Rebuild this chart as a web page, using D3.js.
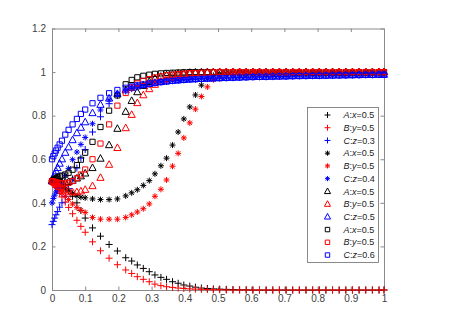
<!DOCTYPE html>
<html>
<head>
<meta charset="utf-8">
<script src="https://cdn.jsdelivr.net/npm/d3@7"></script>
<style>
body { margin: 0; background: #fff; }
svg { display: block; font-family: "Liberation Sans", Arial, sans-serif; }
</style>
</head>
<body>
<div id="chart"></div>
<script>
// time points shared by every series
var tGrid = [0,0.004,0.008,0.012,0.017,0.023,0.03,0.04,0.05,0.062,
  0.075,0.087,0.1,0.122,0.146,0.172,0.197,0.222,0.24,0.257,
  0.275,0.293,0.31,0.328,0.345,0.363,0.38,0.397,0.415,0.432,
  0.45,0.468,0.486,0.505,0.525,0.545,0.565,0.585,0.605,0.625,
  0.645,0.665,0.685,0.705,0.725,0.745,0.765,0.785,0.805,0.825,
  0.845,0.865,0.885,0.905,0.925,0.945,0.965,0.985,1];

// "+" markers
var plusA = [0.5,0.498,0.496,0.494,0.49,0.485,0.478,0.468,0.455,0.43,
  0.4,0.365,0.33,0.285,0.247,0.209,0.179,0.148,0.133,0.115,
  0.099,0.084,0.069,0.058,0.049,0.038,0.031,0.023,0.018,0.013,
  0.009,0.007,0.005,0.004,0.003,0.002,0.001,0.001,0,0,
  0,0,0,0,0,0,0,0,0,0,
  0,0,0,0,0,0,0,0,0];
var plusB = [0.5,0.49,0.48,0.47,0.458,0.443,0.427,0.403,0.379,0.35,
  0.32,0.292,0.265,0.221,0.18,0.146,0.116,0.092,0.076,0.061,
  0.049,0.038,0.027,0.02,0.015,0.012,0.009,0.007,0.005,0.004,
  0.003,0.002,0.001,0.001,0,0,0,0,0,0,
  0,0,0,0,0,0,0,0,0,0,
  0,0,0,0,0,0,0,0,0];
var plusC = [0.3,0.315,0.33,0.345,0.36,0.38,0.4,0.43,0.465,0.51,
  0.56,0.605,0.645,0.725,0.795,0.855,0.892,0.913,0.924,0.932,
  0.939,0.944,0.949,0.953,0.957,0.96,0.962,0.964,0.966,0.967,
  0.969,0.97,0.971,0.972,0.973,0.974,0.975,0.976,0.977,0.978,
  0.978,0.979,0.98,0.98,0.981,0.982,0.982,0.983,0.983,0.984,
  0.984,0.985,0.985,0.986,0.986,0.987,0.987,0.988,0.988];

// "*" markers
var starA = [0.5,0.497,0.494,0.49,0.486,0.48,0.474,0.465,0.455,0.443,
  0.432,0.426,0.423,0.418,0.415,0.415,0.418,0.432,0.446,0.46,
  0.48,0.502,0.533,0.57,0.605,0.665,0.725,0.785,0.84,0.895,
  0.94,0.97,0.985,0.993,0.996,0.998,0.999,1,1,1,
  1,1,1,1,1,1,1,1,1,1,
  1,1,1,1,1,1,1,1,1];
var starB = [0.5,0.493,0.486,0.478,0.468,0.455,0.445,0.43,0.415,0.395,
  0.378,0.366,0.356,0.333,0.325,0.325,0.325,0.333,0.345,0.358,
  0.373,0.395,0.43,0.462,0.505,0.568,0.627,0.698,0.767,0.83,
  0.888,0.932,0.965,0.982,0.991,0.996,0.998,0.999,1,1,
  1,1,1,1,1,1,1,1,1,1,
  1,1,1,1,1,1,1,1,1];
var starC = [0.4,0.42,0.435,0.45,0.465,0.48,0.495,0.525,0.558,0.598,
  0.633,0.668,0.7,0.763,0.826,0.873,0.9,0.918,0.928,0.935,
  0.941,0.946,0.951,0.955,0.958,0.961,0.963,0.965,0.967,0.969,
  0.97,0.971,0.972,0.973,0.974,0.975,0.976,0.977,0.978,0.978,
  0.979,0.98,0.98,0.981,0.982,0.982,0.983,0.983,0.984,0.984,
  0.985,0.985,0.986,0.986,0.987,0.987,0.988,0.988,0.988];

// triangle markers
var triA = [0.5,0.499,0.498,0.497,0.496,0.495,0.494,0.494,0.496,0.502,
  0.512,0.522,0.535,0.56,0.603,0.665,0.74,0.818,0.868,0.908,
  0.937,0.956,0.97,0.979,0.986,0.99,0.993,0.995,0.997,0.998,
  0.999,1,1,1,1,1,1,1,1,1,
  1,1,1,1,1,1,1,1,1,1,
  1,1,1,1,1,1,1,1,1];
var triB = [0.5,0.496,0.491,0.486,0.48,0.473,0.466,0.458,0.452,0.448,
  0.449,0.453,0.46,0.477,0.515,0.575,0.652,0.743,0.804,0.858,
  0.894,0.922,0.942,0.956,0.967,0.976,0.983,0.988,0.992,0.995,
  0.997,0.998,0.999,1,1,1,1,1,1,1,
  1,1,1,1,1,1,1,1,1,1,
  1,1,1,1,1,1,1,1,1];
var triC = [0.5,0.515,0.53,0.545,0.56,0.58,0.6,0.63,0.655,0.688,
  0.72,0.745,0.77,0.812,0.85,0.879,0.9,0.917,0.927,0.935,
  0.941,0.946,0.951,0.955,0.958,0.961,0.963,0.965,0.967,0.969,
  0.97,0.971,0.972,0.973,0.974,0.975,0.976,0.977,0.978,0.978,
  0.979,0.98,0.98,0.981,0.982,0.982,0.983,0.983,0.984,0.984,
  0.985,0.985,0.986,0.986,0.987,0.987,0.988,0.988,0.988];

// square markers
var sqA = [0.5,0.504,0.509,0.513,0.517,0.521,0.525,0.53,0.538,0.552,
  0.573,0.598,0.63,0.68,0.748,0.823,0.893,0.944,0.964,0.976,
  0.983,0.988,0.992,0.994,0.996,0.997,0.998,0.999,1,1,
  1,1,1,1,1,1,1,1,1,1,
  1,1,1,1,1,1,1,1,1,1,
  1,1,1,1,1,1,1,1,1];
var sqB = [0.5,0.498,0.496,0.494,0.492,0.49,0.489,0.489,0.492,0.5,
  0.513,0.53,0.553,0.6,0.672,0.76,0.846,0.904,0.93,0.948,
  0.96,0.968,0.975,0.98,0.985,0.988,0.991,0.993,0.995,0.996,
  0.997,0.998,0.999,1,1,1,1,1,1,1,
  1,1,1,1,1,1,1,1,1,1,
  1,1,1,1,1,1,1,1,1];
var sqC = [0.6,0.614,0.627,0.64,0.653,0.668,0.685,0.713,0.735,0.76,
  0.785,0.808,0.828,0.857,0.882,0.903,0.918,0.928,0.934,0.939,
  0.943,0.947,0.951,0.954,0.957,0.96,0.962,0.964,0.966,0.967,
  0.969,0.97,0.971,0.972,0.973,0.974,0.975,0.976,0.977,0.978,
  0.978,0.979,0.98,0.98,0.981,0.982,0.982,0.983,0.983,0.984,
  0.984,0.985,0.985,0.986,0.986,0.987,0.987,0.988,0.988];

var xTicks = [0,0.1,0.2,0.3,0.4,0.5,0.6,0.7,0.8,0.9,1];
var yTicks = [0,0.2,0.4,0.6,0.8,1,1.2];

// legend labels: [agent, variable, initial value]
var legendLabels = [["A","x","0.5"],["B","y","0.5"],["C","z","0.3"],
  ["A","x","0.5"],["B","y","0.5"],["C","z","0.4"],
  ["A","x","0.5"],["B","y","0.5"],["C","z","0.5"],
  ["A","x","0.5"],["B","y","0.5"],["C","z","0.6"]];

var colors = ["#000000", "#ff0000", "#0000ff"];
var markerTypes = ["plus", "star", "tri", "sq"];
var seriesValues = [plusA, plusB, plusC, starA, starB, starC, triA, triB, triC, sqA, sqB, sqC];

var series = seriesValues.map(function (vals, i) {
    return {
        values: vals,
        color: colors[i % 3],
        marker: markerTypes[Math.floor(i / 3)],
        label: legendLabels[i]
    };
});

var W = 449, H = 320;
var margin = { top: 28.5, right: 65, bottom: 30, left: 52 },
    width = W - margin.left - margin.right,
    height = H - margin.top - margin.bottom;

var svg = d3.select("#chart").append("svg")
    .attr("width", W)
    .attr("height", H);

var g = svg.append("g")
    .attr("transform", "translate(" + margin.left + "," + margin.top + ")");

var x = d3.scaleLinear().domain([0, 1]).range([0, width]);
var y = d3.scaleLinear().domain([0, 1.2]).range([height, 0]);

var axisColor = "#8a8a8a", textColor = "#404040";

function styleAxis(sel) {
    sel.selectAll("path, line").attr("stroke", axisColor);
    sel.selectAll("text").attr("fill", textColor).style("font-size", "10px")
        .style("font-family", '"Liberation Sans", Arial, sans-serif');
}

g.append("g")
    .attr("transform", "translate(0," + height + ")")
    .call(d3.axisBottom(x).tickValues(xTicks).tickSizeInner(-3.5).tickSizeOuter(0)
        .tickPadding(5).tickFormat(function (d) { return String(d); }))
    .call(styleAxis);
g.append("g")
    .call(d3.axisTop(x).tickValues(xTicks).tickSizeInner(-3.5).tickSizeOuter(0).tickFormat(""))
    .call(styleAxis);
g.append("g")
    .call(d3.axisLeft(y).tickValues(yTicks).tickSizeInner(-3.5).tickSizeOuter(0)
        .tickPadding(6).tickFormat(function (d) { return String(d); }))
    .call(styleAxis);
g.append("g")
    .attr("transform", "translate(" + width + ",0)")
    .call(d3.axisRight(y).tickValues(yTicks).tickSizeInner(-3.5).tickSizeOuter(0).tickFormat(""))
    .call(styleAxis);

// marker outline paths centred on 0,0
function markerPath(type, s) {
    var plus = "M" + (-s) + ",0H" + s + "M0," + (-s) + "V" + s;
    if (type === "plus") return plus;
    if (type === "star") {
        var d = s * 0.72;
        return plus + "M" + (-d) + "," + (-d) + "L" + d + "," + d + "M" + (-d) + "," + d + "L" + d + "," + (-d);
    }
    if (type === "tri") return "M0," + (-s) + "L" + (s * 0.9) + "," + (s * 0.65) + "L" + (-s * 0.9) + "," + (s * 0.65) + "Z";
    return "M" + (-s) + "," + (-s) + "H" + s + "V" + s + "H" + (-s) + "Z";
}
var markerSize = { plus: 3.5, star: 3, tri: 4, sq: 2.6 };

series.forEach(function (s) {
    g.append("g")
        .selectAll("path")
        .data(s.values)
        .enter()
        .append("path")
        .attr("transform", function (d, i) { return "translate(" + x(tGrid[i]) + "," + y(d) + ")"; })
        .attr("d", markerPath(s.marker, markerSize[s.marker]))
        .attr("fill", "none")
        .attr("stroke", s.color)
        .attr("stroke-width", 1);
});

// legend
var legend = svg.append("g").attr("transform", "translate(307.5,107.5)");
legend.append("rect")
    .attr("width", 71)
    .attr("height", 155)
    .attr("fill", "#fff")
    .attr("stroke", "#6e6e6e")
    .attr("stroke-width", 0.8);

var rowGap = 12.73;
series.forEach(function (s, i) {
    var row = legend.append("g").attr("transform", "translate(0," + (7.5 + i * rowGap) + ")");
    row.append("path")
        .attr("transform", "translate(20,0)")
        .attr("d", markerPath(s.marker, markerSize[s.marker] * 0.85))
        .attr("fill", "none")
        .attr("stroke", s.color)
        .attr("stroke-width", 1);
    var t = row.append("text")
        .attr("x", 36)
        .attr("dy", "0.35em")
        .attr("fill", "#222")
        .style("font-size", "9px");
    t.append("tspan").style("font-style", "italic").text(s.label[0]);
    t.append("tspan").text(":");
    t.append("tspan").style("font-style", "italic").text(s.label[1]);
    t.append("tspan").text("=" + s.label[2]);
});
</script>
</body>
</html>
